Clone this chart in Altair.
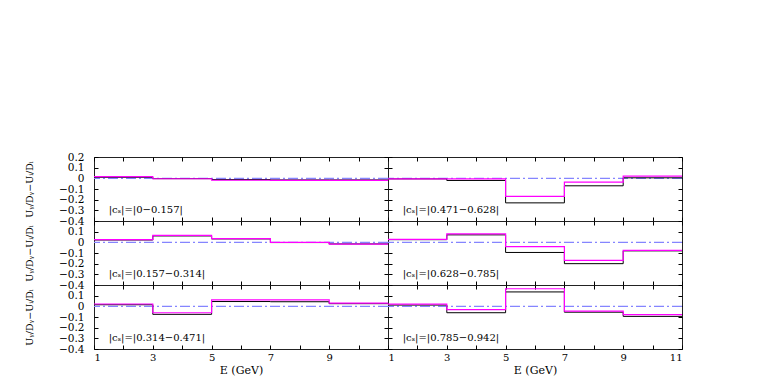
import altair as alt
import pandas as pd

# ---- data ----
edges = [1, 3, 5, 7, 9, 11]
panel_labels = [
    "|cₛ|=|0−0.157|", "|cₛ|=|0.471−0.628|",
    "|cₛ|=|0.157−0.314|", "|cₛ|=|0.628−0.785|",
    "|cₛ|=|0.314−0.471|", "|cₛ|=|0.785−0.942|",
]
black_vals = [
    [0.010, -0.003, -0.012, -0.015, -0.015],
    [-0.005, -0.020, -0.230, -0.070, 0.005],
    [0.022, 0.060, 0.032, -0.002, -0.015],
    [0.025, 0.070, -0.095, -0.200, -0.080],
    [0.015, -0.075, 0.045, 0.043, 0.025],
    [0.012, -0.060, 0.135, -0.055, -0.094],
]
magenta_vals = [
    [0.016, -0.004, -0.018, -0.020, -0.020],
    [-0.005, -0.005, -0.170, -0.035, 0.020],
    [0.025, 0.065, 0.035, 0.000, -0.017],
    [0.028, 0.080, -0.040, -0.170, -0.075],
    [0.022, -0.060, 0.060, 0.060, 0.030],
    [0.020, -0.030, 0.165, -0.045, -0.078],
]
x_ticks = list(range(1, 12))
y_ticks = [0.2, 0.1, 0.0, -0.1, -0.2, -0.3, -0.4]
y_title = "Uᵧ/Dᵧ−Uᵢ/Dᵢ"
x_title = "E (GeV)"

FONT = "DejaVu Serif"
W, H = 294, 64
TICK = 4

xs = alt.Scale(domain=[1, 11], nice=False, zero=False)
ys = alt.Scale(domain=[-0.4, 0.2], nice=False, zero=False)


def panel(i):
    row, col = divmod(i, 2)
    bottom = row == 2
    left = col == 0
    recs = []
    for name, vals in (("black", black_vals[i]), ("magenta", magenta_vals[i])):
        for e, v in zip(edges, vals + [vals[-1]]):
            recs.append({"E": e, "v": v, "s": name})
    df = pd.DataFrame(recs)
    one = pd.DataFrame({"label": [panel_labels[i]]})

    if left:
        xexpr = "(datum.value % 2 == 1 && datum.value < 11) ? datum.label : ''"
    else:
        xexpr = "(datum.value % 2 == 1) ? datum.label : ''"
    x_axis = alt.Axis(
        orient="bottom", values=x_ticks, labels=bottom, labelExpr=xexpr,
        title=x_title if bottom else None, domain=False, grid=False,
        tickSize=TICK, offset=-TICK, labelPadding=3, tickColor="black",
        labelFont=FONT, labelFontSize=10, titleFont=FONT, titleFontSize=11,
        titleFontWeight="normal", titlePadding=2, labelColor="black",
        titleColor="black",
    )
    if row == 0:
        yexpr = "datum.label"
    else:
        yexpr = "datum.value > 0.15 ? '' : datum.label"
    y_axis = alt.Axis(
        orient="left", values=y_ticks, labels=left, labelExpr=yexpr,
        format=".1~f", title=y_title if left else None, domain=False,
        grid=False, tickSize=TICK, offset=-TICK, labelPadding=10,
        tickColor="black", labelFont=FONT, labelFontSize=10.5, titleFont=FONT,
        titleFontSize=9.5, titleFontWeight="normal", titlePadding=24,
        labelColor="black", titleColor="black",
    )

    lines = alt.Chart(df).mark_line(interpolate="step-after").encode(
        x=alt.X("E:Q", scale=xs, axis=x_axis),
        y=alt.Y("v:Q", scale=ys, axis=y_axis),
        color=alt.Color("s:N", scale=alt.Scale(domain=["black", "magenta"],
                                               range=["#000000", "#ff00ff"]),
                        legend=None),
        strokeWidth=alt.StrokeWidth("s:N", scale=alt.Scale(domain=["black", "magenta"],
                                                           range=[1.0, 1.2]),
                                    legend=None),
    )
    ticks_other = alt.Chart(df).mark_line(opacity=0).encode(
        x=alt.X("E:Q", scale=xs, axis=alt.Axis(
            orient="top", values=x_ticks, labels=False, title=None, domain=False,
            grid=False, tickSize=TICK, offset=-TICK, tickColor="black")),
        y=alt.Y("v:Q", scale=ys, axis=alt.Axis(
            orient="right", values=y_ticks, labels=False, title=None, domain=False,
            grid=False, tickSize=TICK, offset=-TICK, tickColor="black")),
    )
    zero = alt.Chart(one).mark_rule(color="#8585ff", strokeDash=[10, 3, 2, 3],
                                    strokeWidth=1.2).encode(
        y=alt.Y(datum=0.0, scale=ys, axis=None))
    txt = alt.Chart(one).mark_text(align="left", baseline="middle", font=FONT,
                                   fontSize=10, color="black").encode(
        x=alt.X(datum=1.5, scale=xs, axis=None),
        y=alt.Y(datum=-0.3, scale=ys, axis=None),
        text="label:N",
    )
    return alt.layer(zero, lines, txt, ticks_other).resolve_axis(
        x="independent", y="independent").properties(width=W, height=H)


chart = alt.concat(*[panel(i) for i in range(6)], columns=2, spacing=0,
                   bounds="flush").properties(
    padding={"top": 143, "left": 16, "right": 5, "bottom": 5}
).configure_view(stroke="#222", strokeWidth=1)

chart.save("out.html", embed_options={"renderer": "svg", "actions": False})
